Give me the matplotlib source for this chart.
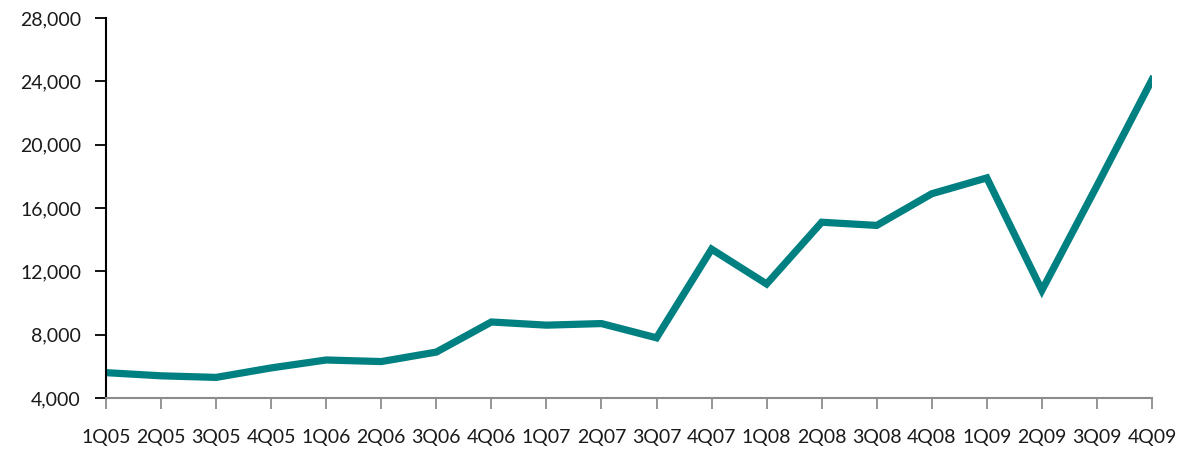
import matplotlib.pyplot as plt

plt.rcParams['font.family'] = ['Lato', 'DejaVu Sans']

quarters = ['1Q05', '2Q05', '3Q05', '4Q05', '1Q06', '2Q06', '3Q06', '4Q06',
            '1Q07', '2Q07', '3Q07', '4Q07', '1Q08', '2Q08', '3Q08', '4Q08',
            '1Q09', '2Q09', '3Q09', '4Q09']
values = [5600, 5400, 5300, 5900, 6400, 6300, 6900, 8800,
          8600, 8700, 7800, 13400, 11200, 15100, 14900, 16900,
          17900, 10800, 17400, 24100]
yticks = [4000, 8000, 12000, 16000, 20000, 24000, 28000]

fig = plt.figure(figsize=(11.94, 4.5), dpi=100)
ax = fig.add_axes([0.0888, 0.1156, 0.876, 0.8444])

x = list(range(len(quarters)))
ax.plot(x, values, color='#008080', linewidth=5.2, solid_joinstyle='miter')

ax.set_xlim(0, len(quarters) - 1)
ax.set_ylim(4000, 28000)
ax.set_xticks(x)
ax.set_xticklabels(quarters)
ax.set_yticks(yticks)
ax.set_yticklabels([f'{v:,}' for v in yticks])

for s in ['top', 'right']:
    ax.spines[s].set_visible(False)
ax.spines['left'].set_color('black')
ax.spines['left'].set_linewidth(1.5)
ax.spines['bottom'].set_color('#8c8c8c')
ax.spines['bottom'].set_linewidth(1.5)

ax.tick_params(axis='y', length=8, width=1.3, color='black', pad=10,
               labelsize=14, labelcolor='#1a1a1a')
ax.tick_params(axis='x', length=8, width=1.3, color='#8c8c8c', pad=14,
               labelsize=14, labelcolor='#1a1a1a')

fig.savefig('out.png', dpi=100)
